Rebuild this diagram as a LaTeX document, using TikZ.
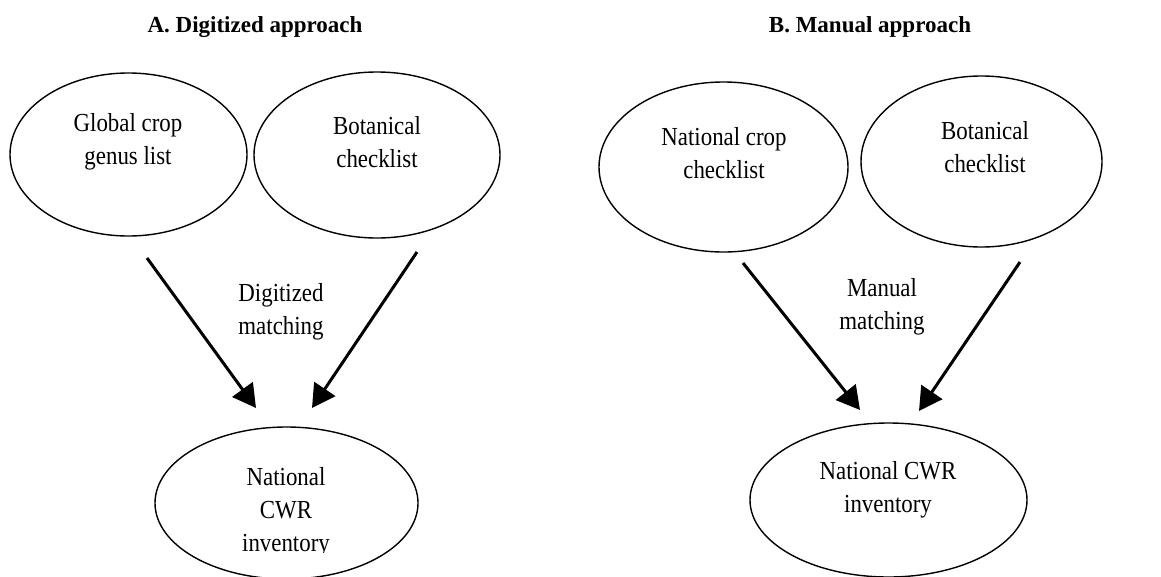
\documentclass[tikz,border=0pt]{standalone}
\usepackage{fontspec}
\setmainfont{Liberation Serif}
\newfontfamily\narrowserif[FakeStretch=0.88]{Liberation Serif}
\usetikzlibrary{shapes.geometric,arrows.meta}
\begin{document}
\begin{tikzpicture}[x=1pt,y=-1pt,
  oval/.style={ellipse,draw,line width=1.4pt,inner sep=0pt},
  txt/.style={align=center,font=\narrowserif\fontsize{26}{32.5}\selectfont,inner sep=0pt},
  ttl/.style={anchor=base,font=\fontsize{23}{28}\selectfont\bfseries,inner sep=0pt},
  flow/.style={line width=3pt,-{Triangle[length=23pt,width=25pt]}}]
\useasboundingbox (0,0) rectangle (1161,576);
\clip (0,0) rectangle (1161,576);
% titles
\node[ttl] (ta) at (255,32) {A. Digitized approach};
\node[ttl] (tb) at (870,32) {B. Manual approach};
% ellipses
\node[oval,minimum width=237pt,minimum height=163pt] (e1) at (128.5,154.5) {};
\node[oval,minimum width=246pt,minimum height=166pt] (e2) at (377,155) {};
\node[oval,minimum width=249pt,minimum height=170pt] (e3) at (723.5,167) {};
\node[oval,minimum width=241pt,minimum height=171pt] (e4) at (981.5,161.5) {};
\node[oval,minimum width=263pt,minimum height=152pt] (e5) at (286.5,503) {};
\node[oval,minimum width=277pt,minimum height=154pt] (e6) at (888.5,500) {};
% texts
\node[txt] (x1) at (128,142) {Global crop\\genus list};
\node[txt] (x2) at (377,142) {Botanical\\checklist};
\node[txt] (x3) at (724,153) {National crop\\checklist};
\node[txt] (x4) at (985,147) {Botanical\\checklist};
\node[txt] (la) at (281,312) {Digitized\\matching};
\node[txt] (lb) at (882,307) {Manual\\matching};
\begin{scope}
\clip (0,0) rectangle (1161,552);
\node[txt,font=\narrowserif\fontsize{26}{33}\selectfont] (x5) at (286,512) {National\\CWR\\inventory};
\end{scope}
\node[txt] (x6) at (888,490) {National CWR\\inventory};
% arrows
\coordinate (a1s) at (147,258);
\coordinate (a1e) at (256,408);
\coordinate (a2s) at (417,252);
\coordinate (a2e) at (312,408);
\coordinate (a3s) at (743,263);
\coordinate (a3e) at (860,410);
\coordinate (a4s) at (1020,262);
\coordinate (a4e) at (919,411);
\draw[flow] (a1s) -- (a1e);
\draw[flow] (a2s) -- (a2e);
\draw[flow] (a3s) -- (a3e);
\draw[flow] (a4s) -- (a4e);
\end{tikzpicture}
\end{document}
